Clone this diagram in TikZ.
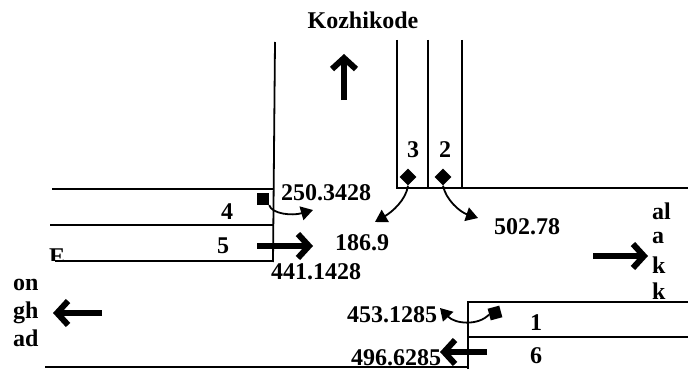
\documentclass[tikz,border=0pt]{standalone}
\usepackage{fontspec}
\setmainfont{Liberation Serif}[BoldFont={Liberation Serif Bold}]
\usetikzlibrary{arrows.meta,shapes.geometric}
\tikzset{
  road/.style={line width=1.8pt},
  lbl/.style={font=\fontsize{24}{27}\selectfont\bfseries, inner sep=0pt},
  bigarrow/.style={line width=6.5pt, -{Straight Barb[length=11pt,width=24pt,line width=6pt]}},
  turnarrow/.style={line width=1.8pt, -{Triangle[length=12pt,width=14pt]}},
  sq/.style={fill=black, minimum size=12pt, inner sep=0pt},
  dia/.style={fill=black, diamond, minimum size=17pt, inner sep=0pt}
}
\begin{document}
\begin{tikzpicture}[x=1pt,y=-1pt]
\useasboundingbox (0,0) rectangle (688,369);
% road edges
\draw[road] (275,42) -- (273,262);
\draw[road] (52,189) -- (273,189);
\draw[road] (50,225) -- (273,225);
\draw[road] (55,261) -- (273,261);
\draw[road] (45,367) -- (468,367);
\draw[road] (397,40) -- (397,188) -- (688,188);
\draw[road] (428,40) -- (428,188);
\draw[road] (462,40) -- (462,188);
\draw[road] (468,369) -- (468,302) -- (688,302);
\draw[road] (468,337) -- (688,337);
% labels
\node[lbl] (koz) at (363,20) {Kozhikode};
\node[lbl] (l3) at (413,150) {3};
\node[lbl] (l2) at (445,150) {2};
\node[lbl] (l4) at (227,212) {4};
\node[lbl] (l5) at (223,246) {5};
\node[lbl] (l1) at (536,323) {1};
\node[lbl] (l6) at (536,356) {6};
\node[lbl] (v250) at (326,193) {250.3428};
\node[lbl] (v186) at (362,243) {186.9};
\node[lbl] (v441) at (316,272) {441.1428};
\node[lbl] (v502) at (527,227) {502.78};
\node[lbl] (v453) at (392,315) {453.1285};
\node[lbl, anchor=base] (v496) at (396,365) {496.6285};
\node[lbl, anchor=west] (on) at (13,285) {on};
\node[lbl, anchor=west] (gh) at (13,313) {gh};
\node[lbl, anchor=west] (ad) at (13,338) {ad};
\node[lbl, anchor=west] (al) at (652,211) {al};
\node[lbl, anchor=west] (a) at (652,238) {a};
\node[lbl, anchor=west] (k1) at (652,265) {k};
\node[lbl, anchor=west] (k2) at (652,291) {k};
\begin{scope}
\clip (40,240) rectangle (70,260);
\node[lbl, anchor=west] (ee) at (49,257) {E};
\end{scope}
% big arrows
\coordinate (upS) at (344,100); \coordinate (upE) at (344,54);
\draw[bigarrow] (upS) -- (upE);
\coordinate (r5S) at (257,246); \coordinate (r5E) at (313,246);
\draw[bigarrow] (r5S) -- (r5E);
\coordinate (lwS) at (102,313); \coordinate (lwE) at (53,313);
\draw[bigarrow] (lwS) -- (lwE);
\coordinate (reS) at (593,256); \coordinate (reE) at (648,256);
\draw[bigarrow] (reS) -- (reE);
\coordinate (l6S) at (487,352); \coordinate (l6E) at (440,352);
\draw[bigarrow] (l6S) -- (l6E);
% turning movements
\node[sq] (s4) at (263,199) {};
\node[dia] (d3) at (408,177) {};
\node[dia] (d2) at (443,177) {};
\node[sq, rotate=15] (s1) at (495,313) {};
\coordinate (t4) at (313,210);
\coordinate (t3) at (375,222);
\coordinate (t2) at (478,218);
\coordinate (t1) at (440,308);
\draw[turnarrow] (s4.south east) .. controls (272,214) and (292,216) .. (t4);
\draw[turnarrow] (d3.south) .. controls (406,200) and (392,212) .. (t3);
\draw[turnarrow] (d2.south) .. controls (446,200) and (460,212) .. (t2);
\draw[turnarrow] (s1.west) .. controls (478,326) and (455,324) .. (t1);
\end{tikzpicture}
\end{document}
